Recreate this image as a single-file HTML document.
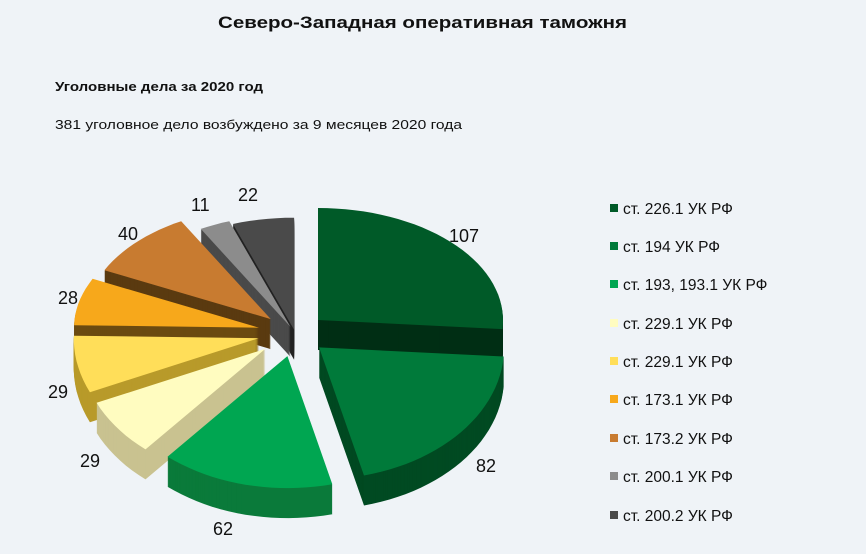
<!DOCTYPE html>
<html><head><meta charset="utf-8">
<style>
html,body{margin:0;padding:0;background:#eff3f7;}
svg{display:block;}
text{font-family:"Liberation Sans",Arial,sans-serif;fill:#111;}
</style></head>
<body>
<svg id="s" width="866" height="554" viewBox="0 0 866 554" xmlns="http://www.w3.org/2000/svg">
<rect width="866" height="554" fill="#eff3f7"/>
<text x="218" y="28" font-size="17" font-weight="bold" textLength="409" lengthAdjust="spacingAndGlyphs">Северо-Западная оперативная таможня</text>
<text x="55" y="91" font-size="13" font-weight="bold" textLength="208" lengthAdjust="spacingAndGlyphs">Уголовные дела за 2020 год</text>
<text x="55" y="129" font-size="13" textLength="407" lengthAdjust="spacingAndGlyphs">381 уголовное дело возбуждено за 9 месяцев 2020 года</text>
<g id="pie"></g>
<g font-size="18">
<text x="449" y="242">107</text>
<text x="476" y="472">82</text>
<text x="213" y="535">62</text>
<text x="80" y="467">29</text>
<text x="48" y="398">29</text>
<text x="58" y="304">28</text>
<text x="118" y="240">40</text>
<text x="191" y="211">11</text>
<text x="238" y="201">22</text>
</g>
<g font-size="15.5" id="leg">
<rect x="610" y="204" width="8" height="8" fill="#005a28"/><text x="623" y="214">ст. 226.1 УК РФ</text>
<rect x="610" y="242" width="8" height="8" fill="#007a3a"/><text x="623" y="252">ст. 194 УК РФ</text>
<rect x="610" y="280" width="8" height="8" fill="#00a651"/><text x="623" y="290">ст. 193, 193.1 УК РФ</text>
<rect x="610" y="319" width="8" height="8" fill="#fffcc0"/><text x="623" y="329">ст. 229.1 УК РФ</text>
<rect x="610" y="357" width="8" height="8" fill="#ffde59"/><text x="623" y="367">ст. 229.1 УК РФ</text>
<rect x="610" y="395" width="8" height="8" fill="#f7a81b"/><text x="623" y="405">ст. 173.1 УК РФ</text>
<rect x="610" y="434" width="8" height="8" fill="#c87b30"/><text x="623" y="444">ст. 173.2 УК РФ</text>
<rect x="610" y="472" width="8" height="8" fill="#8c8c8c"/><text x="623" y="482">ст. 200.1 УК РФ</text>
<rect x="610" y="511" width="8" height="8" fill="#4a4a4a"/><text x="623" y="521">ст. 200.2 УК РФ</text>
</g>
</svg>
<script>
(function(){
var vals=[107,82,62,29,29,28,40,11,22];
var top=["#005a28","#007a3a","#00a651","#fffcc0","#ffde59","#f7a81b","#c87b30","#8c8c8c","#4a4a4a"];
var side=["#002e14","#004a22","#0a7a3a","#c9c290","#b89a2a","#6b4a10","#5a3a10","#4a4a4a","#222222"];
var dd=[0.17,0.17,0.18,0.2,0.2,0.2,0.18,0.06,0.03];
var cx=295,cy=333,rx=185,ryT=112,ryB=132,depth=30,tot=410;
var a=0,sl=[];
for(var i=0;i<9;i++){var s=a*Math.PI/180;a+=vals[i]/tot*360;var e=a*Math.PI/180;sl.push([s,e]);}
function Y(c){return c>0?ryT*c:ryB*c;}
function path(i,oy){
 var s=sl[i][0],e=sl[i][1],b=(s+e)/2,d=dd[i];
 var ox=cx+d*rx*Math.sin(b),oy2=cy-d*Y(Math.cos(b))+oy;
 var p="M"+ox.toFixed(1)+","+oy2.toFixed(1);
 var n=Math.max(4,Math.ceil((e-s)/0.05));
 for(var k=0;k<=n;k++){var t=s+(e-s)*k/n;p+="L"+(ox+rx*Math.sin(t)).toFixed(1)+","+(oy2-Y(Math.cos(t))).toFixed(1);}
 return p+"Z";
}
var order=[8,7,6,0,5,4,3,1,2];
var g=document.getElementById("pie"),h="";
order.forEach(function(i){
 for(var y=depth;y>0;y-=1){h+='<path d="'+path(i,y)+'" fill="'+side[i]+'"/>';}
 h+='<path d="'+path(i,0)+'" fill="'+top[i]+'"/>';
});
g.innerHTML=h;
})();
</script>
</body></html>
